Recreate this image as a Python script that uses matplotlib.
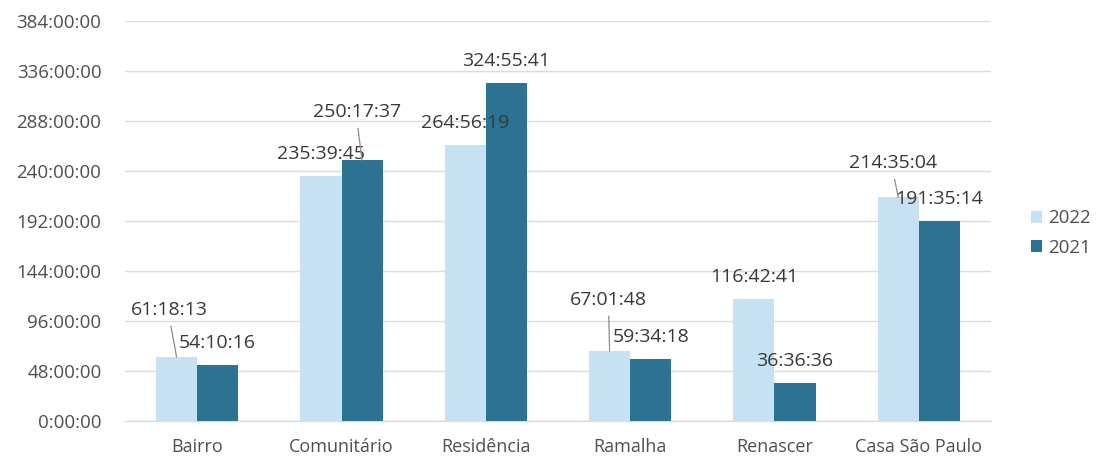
import matplotlib
matplotlib.use("Agg")
import matplotlib.pyplot as plt
from matplotlib.ticker import FuncFormatter, MultipleLocator
import numpy as np

# Hours of activity per service, as H:MM:SS durations
categories = ["Bairro", "Comunitário", "Residência", "Ramalha", "Renascer", "Casa São Paulo"]
horas_2022 = ["61:18:13", "235:39:45", "264:56:19", "67:01:48", "116:42:41", "214:35:04"]
horas_2021 = ["54:10:16", "250:17:37", "324:55:41", "59:34:18", "36:36:36", "191:35:14"]
series_names = ["2022", "2021"]

# Label placement (pixels from the top of each bar); None = default above the bar
label_offsets_2022 = [(-7, 49), None, None, (-1, 53), None, (-5, 36)]
label_offsets_2021 = [None, (-5, 50), None, None, None, None]

COLOR_2022 = "#c6e1f1"
COLOR_2021 = "#2c7393"
TEXT_COLOR = "#383838"
TICK_COLOR = "#4f4f4f"
GRID_COLOR = "#dadbe3"
LEADER_COLOR = "#8c8c8c"

plt.rcParams["font.family"] = ["Open Sans", "DejaVu Sans"]


def to_hours(s):
    h, m, sec = (int(p) for p in s.split(":"))
    return h + m / 60 + sec / 3600


def hms(v, pos=None):
    total = int(round(v * 3600))
    h, rest = divmod(total, 3600)
    m, s = divmod(rest, 60)
    return f"{h}:{m:02d}:{s:02d}"


vals_2022 = [to_hours(s) for s in horas_2022]
vals_2021 = [to_hours(s) for s in horas_2021]

fig = plt.figure(figsize=(10.96, 4.59), dpi=100)
ax = fig.add_axes([125 / 1096, 38 / 459, 866 / 1096, 400 / 459])

x = np.arange(len(categories))
width = 0.285
bars22 = ax.bar(x - width / 2, vals_2022, width, color=COLOR_2022, label=series_names[0], zorder=3)
bars21 = ax.bar(x + width / 2, vals_2021, width, color=COLOR_2021, label=series_names[1], zorder=3)

ax.set_xlim(-0.5, len(categories) - 0.5)
ax.set_ylim(0, 384)
ax.yaxis.set_major_locator(MultipleLocator(48))
ax.yaxis.set_major_formatter(FuncFormatter(hms))
ax.grid(axis="y", color=GRID_COLOR, linewidth=1.0, zorder=0)
ax.set_axisbelow(True)
for side in ("top", "right", "left"):
    ax.spines[side].set_visible(False)
ax.spines["bottom"].set_color(GRID_COLOR)
ax.spines["bottom"].set_linewidth(1.0)

ax.set_xticks(x)
ax.set_xticklabels(categories)
ax.tick_params(axis="both", length=0, labelsize=13.5, labelcolor=TICK_COLOR)
ax.tick_params(axis="x", pad=12, labelsize=13)
ax.tick_params(axis="y", pad=17)

DEFAULT_OFFSET = (0, 24)
DIGIT_HALF = 7


def add_labels(bars, texts, offsets):
    for bar, txt, off in zip(bars, texts, offsets):
        xc = bar.get_x() + bar.get_width() / 2
        top = bar.get_height()
        dx, dy = off if off is not None else DEFAULT_OFFSET
        kwargs = {}
        if off is not None:
            kwargs["arrowprops"] = dict(arrowstyle="-", color=LEADER_COLOR, lw=0.9,
                                        relpos=(0.5, 0.0), shrinkA=3, shrinkB=0)
        ax.annotate(txt, xy=(xc, top), xytext=(dx, dy - DIGIT_HALF),
                    textcoords="offset pixels", ha="center", va="baseline",
                    fontsize=14, color=TEXT_COLOR, zorder=5, **kwargs)


add_labels(bars22, horas_2022, label_offsets_2022)
add_labels(bars21, horas_2021, label_offsets_2021)

fig.legend(handles=[bars22, bars21], labels=series_names, loc="center left",
           bbox_to_anchor=(1031 / 1096, 1 - 233 / 459), frameon=False,
           fontsize=13.5, labelcolor=TICK_COLOR, handlelength=0.6, handleheight=0.6,
           handletextpad=0.3, labelspacing=0.6, borderaxespad=0, borderpad=0)

fig.savefig("out.png", dpi=100, facecolor="white")
